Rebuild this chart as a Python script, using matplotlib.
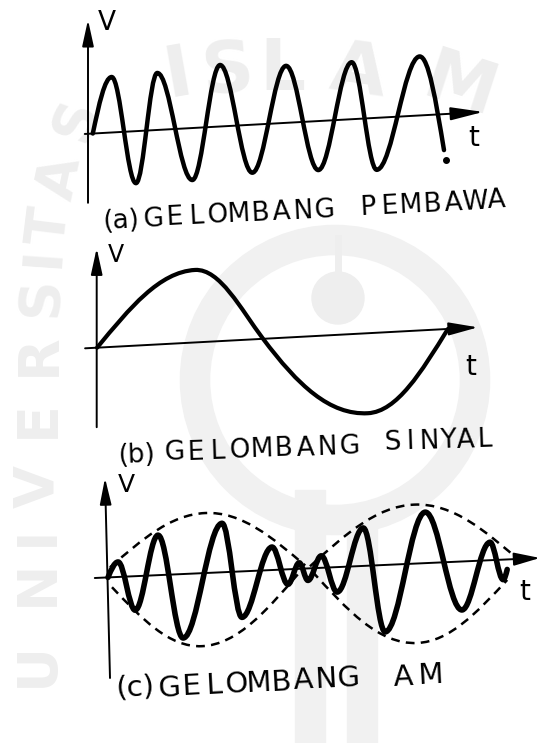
"""
Gelombang pembawa, gelombang sinyal dan gelombang AM (gambar tangan).
"""

import numpy as np
import matplotlib
matplotlib.use('Agg')
from matplotlib import pyplot as plt
from matplotlib.path import Path
from matplotlib.patches import PathPatch, FancyArrowPatch, Circle, Rectangle
from matplotlib.transforms import Affine2D

#%% Datos (t y V en unidades arbitrarias)

# (a) gelombang pembawa
t_pembawa = [0.12, 0.59, 1.20, 1.73, 2.61, 3.30, 4.11, 4.95, 5.76, 6.59, 7.22, 8.29, 8.90]
v_pembawa = [0.00, 1.11, -1.04, 1.14, -1.04, 1.23, -0.96, 1.14, -0.98, 1.14, -1.04, 1.18, -0.72]
t_titik = [8.95]
v_titik = [-0.92]

# (b) gelombang sinyal
t_sinyal = [0.01, 2.46, 4.16, 6.78, 8.78]
v_sinyal = [0.00, 1.45, 0.00, -1.60, 0.00]

# (c) gelombang AM
t_am = [0.05, 0.30, 0.73, 1.30, 1.93, 2.90, 3.40, 4.15, 4.55, 4.83,
        5.05, 5.38, 5.78, 6.43, 6.98, 7.98, 8.90, 9.60, 9.93, 10.03]
v_am = [0.00, 0.30, -0.68, 0.80, -1.28, 0.98, -0.92, 0.46, -0.30, 0.12,
        -0.24, 0.24, -0.50, 0.76, -1.34, 1.02, -0.97, 0.36, -0.40, -0.20]

# envolventes (lobulos)
t_env_atas_1 = [0.10, 2.48, 4.98]
v_env_atas_1 = [0.20, 1.20, 0.06]
t_env_atas_2 = [5.10, 7.70, 10.40]
v_env_atas_2 = [0.04, 1.18, -0.08]
t_env_bawah_1 = [0.15, 2.40, 4.85]
v_env_bawah_1 = [-0.20, -1.46, -0.06]
t_env_bawah_2 = [5.15, 7.78, 10.03]
v_env_bawah_2 = [-0.06, -1.59, -0.41]

#%% Geometria

ANCHO, ALTO = 539, 743
KX, KY = 40.0, 50.0  # pixeles por unidad de t y de V


def trazo(ts, vs):
    """Camino Bezier suave que pasa por los puntos (t, V)."""
    n = len(ts)

    def extremo(i):
        if i == 0 or i == n - 1:
            return False
        return (vs[i] - vs[i - 1]) * (vs[i + 1] - vs[i]) < 0

    def pendiente(i):
        a, b = max(i - 1, 0), min(i + 1, n - 1)
        return np.pi / 2 * (vs[b] - vs[a]) / (ts[b] - ts[a])

    verts = [(ts[0], vs[0])]
    codes = [Path.MOVETO]
    for i in range(n - 1):
        dx = ts[i + 1] - ts[i]
        if extremo(i):
            c1 = (ts[i] + 0.364 * dx, vs[i])
        else:
            c1 = (ts[i] + dx / 3, vs[i] + pendiente(i) * dx / 3)
        if extremo(i + 1):
            c2 = (ts[i + 1] - 0.364 * dx, vs[i + 1])
        else:
            c2 = (ts[i + 1] - dx / 3, vs[i + 1] - pendiente(i + 1) * dx / 3)
        verts += [c1, c2, (ts[i + 1], vs[i + 1])]
        codes += [Path.CURVE4] * 3
    return Path(verts, codes)


def panel(fig, x0, y0, subida):
    """Ejes transparentes con origen en el pixel (x0, y0).
    subida: pixeles que sube el eje t por cada pixel hacia la derecha."""
    ax = fig.add_axes([0, 0, 1, 1])
    ax.set_xlim(-x0 / KX, (ANCHO - x0) / KX)
    ax.set_ylim((y0 - ALTO) / KY, y0 / KY)
    ax.axis('off')
    ax.patch.set_visible(False)
    s = subida * KX / KY
    tr = Affine2D().skew(0, np.arctan(s)) + ax.transData
    return ax, tr


def flecha(ax, a, b, tr, largo=1.6, ancho=0.35):
    ax.add_patch(FancyArrowPatch(
        a, b, transform=tr,
        arrowstyle=f'-|>,head_length={largo},head_width={ancho}',
        mutation_scale=10, lw=1.4, color='black',
        shrinkA=0, shrinkB=0,
    ))


def rotulo(ax, texto, x, y, paso, angulo, size):
    ang = np.deg2rad(angulo)
    for i, ch in enumerate(texto):
        ax.text(x + i * paso * np.cos(ang), y - i * paso * np.sin(ang), ch,
                rotation=angulo, ha='center', va='center', fontsize=size,
                color='black')


#%% Figura

fig = plt.figure(figsize=(ANCHO / 100, ALTO / 100), dpi=100)
fig.patch.set_facecolor('white')

fondo = fig.add_axes([0, 0, 1, 1])
fondo.set_xlim(0, ANCHO)
fondo.set_ylim(ALTO, 0)
fondo.axis('off')

# marca de agua (logo tenue)
gris = '#eeeeee'
for ch, x, y, r in zip('UNIVERSITAS',
                       [38, 38, 38, 38, 38, 39, 41, 44, 50, 60, 76],
                       [664, 583, 536, 486, 419, 355, 296, 257, 226, 178, 119],
                       [90, 90, 90, 90, 90, 90, 88, 86, 83, 78, 70]):
    fondo.text(x, y, ch, rotation=r, ha='center', va='center', fontsize=40,
               fontweight='bold', color=gris, zorder=0)
for ch, x, y, r in zip('ISLAM', [178, 228, 282, 358, 460], [75, 72, 70, 73, 88],
                       [10, 5, 0, -8, -18]):
    fondo.text(x, y, ch, rotation=r, ha='center', va='center', fontsize=52,
               fontweight='bold', color=gris, zorder=0)
fondo.add_patch(Circle((335, 380), 140, fill=False, lw=22, ec='#f1f1f1', zorder=0))
fondo.add_patch(Circle((338, 298), 26, color=gris, zorder=0))
fondo.plot([338, 338], [238, 290], color=gris, lw=5, zorder=0)
fondo.add_patch(Rectangle((295, 490), 30, 260, color='#f1f1f1', zorder=0))
fondo.add_patch(Rectangle((347, 520), 30, 230, color='#f1f1f1', zorder=0))

# (a) gelombang pembawa
ax, tr = panel(fig, 88, 133.8, 0.0553)
flecha(ax, (0, -1.38), (0, 2.28), ax.transData)
flecha(ax, (-0.08, 0), (9.88, 0), tr, largo=2.0, ancho=0.4)
ax.add_patch(PathPatch(trazo(t_pembawa, v_pembawa), fill=False, lw=3.2,
                       ec='black', transform=tr, capstyle='round',
                       joinstyle='round'))
ax.plot(t_titik, v_titik, 'o', color='black', ms=4, transform=tr)

# (b) gelombang sinyal
ax, tr = panel(fig, 96.7, 347.7, 0.0534)
flecha(ax, (0, -1.59), (0, 1.99), ax.transData)
flecha(ax, (-0.29, 0), (9.53, 0), tr, largo=1.8, ancho=0.4)
ax.add_patch(PathPatch(trazo(t_sinyal, v_sinyal), fill=False, lw=3.0,
                       ec='black', transform=tr, capstyle='round',
                       joinstyle='round'))

# (c) gelombang AM
ax, tr = panel(fig, 106, 577.5, 0.045)
flecha(ax, (0.10, -2.01), (-0.025, 1.99), ax.transData)
flecha(ax, (-0.28, 0), (10.85, 0), tr, largo=1.6, ancho=0.4)
for te, ve in [(t_env_atas_1, v_env_atas_1), (t_env_atas_2, v_env_atas_2),
               (t_env_bawah_1, v_env_bawah_1), (t_env_bawah_2, v_env_bawah_2)]:
    ax.add_patch(PathPatch(trazo(te, ve), fill=False, lw=1.8, ec='black',
                           ls=(0, (3.5, 2.5)), transform=tr))
ax.add_patch(PathPatch(trazo(t_am, v_am), fill=False, lw=4.0, ec='black',
                       transform=tr, capstyle='round', joinstyle='round'))

# letras de los ejes
for txt, x, y, s in [('V', 107, 23, 19), ('t', 474, 138, 20),
                     ('V', 116, 255, 17), ('t', 471, 367, 20),
                     ('V', 126, 485, 18), ('t', 525, 592, 20)]:
    fondo.text(x, y, txt, ha='center', va='center', fontsize=s, color='black')

# rotulos
fondo.text(121, 221, '(a)', ha='center', va='center', fontsize=19, rotation=3)
rotulo(fondo, 'GELOMBANG PEMBAWA', 153, 219, 21.5, 3, 19)

fondo.text(137, 455, '(b)', ha='center', va='center', fontsize=19, rotation=2)
rotulo(fondo, 'GELOMBANG', 174, 453, 21.9, 2, 19)
rotulo(fondo, 'SINYAL', 392, 443, 18.5, 2, 19)

fondo.text(135, 688, '(c)', ha='center', va='center', fontsize=21, rotation=3)
rotulo(fondo, 'GELOMBANG', 169, 688, 22.4, 3, 21)
rotulo(fondo, 'AM', 403, 677, 27, 3, 21)

fig.savefig('out.png', dpi=100, facecolor='white')
plt.close(fig)
